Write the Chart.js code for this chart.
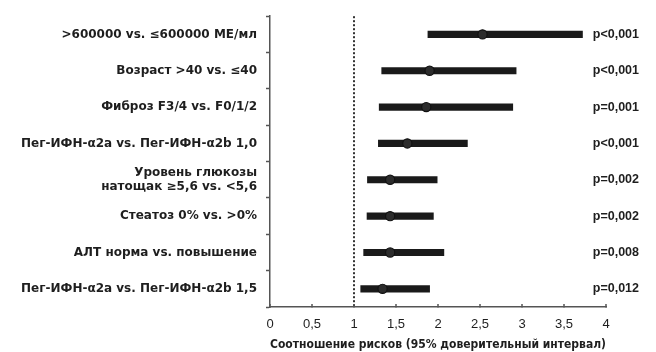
<!DOCTYPE html>
<html><head><meta charset="utf-8">
<script src="https://cdn.jsdelivr.net/npm/chart.js@4"></script>
<style>html,body{margin:0;padding:0;background:#fff}#wrap{width:656px;height:352px;position:relative}</style>
</head><body><div id="wrap"><canvas id="c"></canvas></div>
<script>
const categories = [
  ">600000 vs. ≤600000 МЕ/мл",
  "Возраст >40 vs. ≤40",
  "Фиброз F3/4 vs. F0/1/2",
  "Пег-ИФН-α2a vs. Пег-ИФН-α2b 1,0",
  ["Уровень глюкозы", "натощак ≥5,6 vs. <5,6"],
  "Стеатоз 0% vs. >0%",
  "АЛТ норма vs. повышение",
  "Пег-ИФН-α2a vs. Пег-ИФН-α2b 1,5"
];
const hrValues = [2.53, 1.90, 1.86, 1.635, 1.43, 1.43, 1.43, 1.34];
const ciLower  = [1.88, 1.33, 1.30, 1.29, 1.16, 1.155, 1.115, 1.08];
const ciUpper  = [3.72, 2.93, 2.89, 2.35, 1.99, 1.945, 2.07, 1.90];
const pValues  = ["p<0,001", "p<0,001", "p=0,001", "p<0,001", "p=0,002", "p=0,002", "p=0,008", "p=0,012"];
const xTicks   = [0, 0.5, 1, 1.5, 2, 2.5, 3, 3.5, 4];
const referenceValue = 1;
const xTitle = "Соотношение рисков (95% доверительный интервал)";

const FONT = "'Liberation Sans', Arial, sans-serif";
const WIDE = "'DejaVu Sans', sans-serif";
const INK = '#1e1e1e';
const AXIS = '#555';

new Chart(document.getElementById('c'), {
  type: 'bar',
  data: {
    labels: categories,
    datasets: [
      {
        type: 'bar',
        data: ciLower.map((l, i) => [l, ciUpper[i]]),
        backgroundColor: '#1a1a1a',
        barThickness: 6.5,
        borderWidth: 0,
        borderSkipped: false,
        xAxisID: 'x', yAxisID: 'y',
        order: 2
      },
      {
        type: 'line',
        indexAxis: 'y',
        data: hrValues,
        showLine: false,
        pointRadius: 4.6,
        pointBackgroundColor: '#2c2c2c',
        pointBorderColor: '#111',
        pointBorderWidth: 1.2,
        xAxisID: 'x', yAxisID: 'y',
        order: 1
      }
    ]
  },
  options: {
    indexAxis: 'y',
    responsive: true,
    maintainAspectRatio: false,
    animation: false,
    layout: { padding: { top: 15, left: 0, right: 0, bottom: 0 } },
    plugins: { legend: { display: false }, tooltip: { enabled: false } },
    scales: {
      x: {
        type: 'linear',
        min: 0, max: 4,
        afterBuildTicks: s => { s.ticks = xTicks.map(v => ({ value: v })); },
        afterFit: s => { s.height = 45; },
        ticks: {
          callback: v => String(v).replace('.', ','),
          color: INK,
          font: { family: FONT, size: 13 },
          padding: 13,
          maxRotation: 0,
          autoSkip: false
        },
        grid: {
          color: c => (c.tick && c.tick.value === referenceValue) ? '#333' : 'rgba(0,0,0,0)',
          lineWidth: 2,
          drawTicks: true,
          tickLength: -3,
          tickColor: AXIS,
          tickWidth: 1.5
        },
        border: { display: true, color: AXIS, width: 1.5, dash: [2, 2] },
        title: {
          display: true,
          text: xTitle,
          align: 'start',
          color: INK,
          font: { family: WIDE, size: 11.8, weight: 'bold' },
          padding: { top: 2, bottom: 0 }
        }
      },
      y: {
        type: 'category',
        position: 'left',
        offset: true,
        afterFit: s => { s.width = 270; },
        grid: { offset: true, drawOnChartArea: false, tickLength: 4, tickColor: AXIS, tickWidth: 1.5 },
        border: { color: AXIS, width: 1.5 },
        ticks: {
          color: INK,
          font: { family: WIDE, size: 12, weight: 'bold' },
          padding: 9,
          autoSkip: false
        }
      },
      y2: {
        type: 'category',
        labels: pValues,
        position: 'right',
        offset: true,
        afterFit: s => { s.width = 50; s.paddingTop = 0; s.paddingBottom = 0; },
        grid: { display: false, drawTicks: false },
        border: { display: false },
        ticks: {
          mirror: true,
          color: INK,
          font: { family: FONT, size: 12.5, weight: 'bold' },
          padding: 33,
          autoSkip: false
        }
      }
    }
  }
});
</script>
</body></html>
